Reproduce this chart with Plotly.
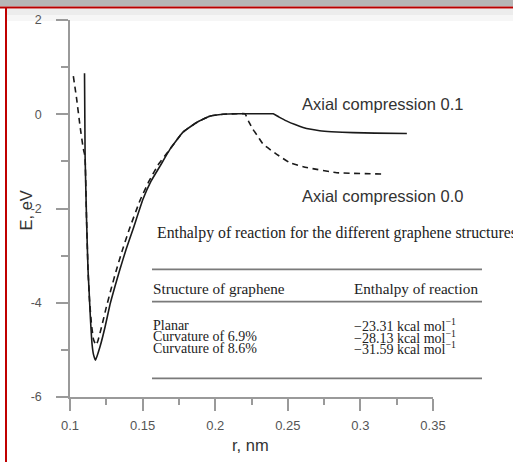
import plotly.graph_objects as go

# ---------------- data ----------------
r_comp01 = [0.1100, 0.1104, 0.1114, 0.1124, 0.1131, 0.1141, 0.1152, 0.1162, 0.1176,
            0.1207, 0.1241, 0.1276, 0.1310, 0.1344, 0.1386, 0.1434,
            0.1503, 0.1558, 0.1620, 0.1689, 0.1778, 0.1875, 0.1964, 0.2054,
            0.2150, 0.2250, 0.2350, 0.2400,
            0.2440, 0.2490, 0.2550, 0.2605, 0.2660, 0.2720, 0.2800, 0.2950, 0.3100, 0.3320]
e_comp01 = [0.87, -0.89, -2.23, -3.29, -3.72, -4.35, -4.88, -5.10, -5.22,
            -4.93, -4.52, -4.03, -3.65, -3.29, -2.87, -2.44,
            -1.80, -1.42, -1.10, -0.74, -0.38, -0.17, -0.04, 0.0,
            0.01, 0.01, 0.01, 0.01,
            -0.06, -0.14, -0.22, -0.28, -0.32, -0.35, -0.37, -0.39, -0.40, -0.41]

r_comp00 = [0.1023, 0.1046, 0.1069, 0.1092, 0.1103, 0.1114, 0.1124, 0.1134, 0.1148, 0.1162,
            0.1179, 0.1193, 0.1220, 0.1248, 0.1282, 0.1317, 0.1358, 0.1406, 0.1482, 0.1544,
            0.1606, 0.1689, 0.1778, 0.1875, 0.1964, 0.2054, 0.2150, 0.2205, 0.2230, 0.2260,
            0.2300, 0.2331, 0.2424, 0.2515, 0.2630, 0.2837, 0.3158]
e_comp00 = [0.81, 0.32, -0.25, -0.74, -0.89, -2.23, -3.29, -3.93, -4.46, -4.78,
            -4.90, -4.80, -4.48, -4.12, -3.72, -3.33, -2.91, -2.46, -1.83, -1.42,
            -1.08, -0.74, -0.38, -0.17, -0.04, 0.0, 0.01, 0.01, -0.15, -0.32,
            -0.50, -0.64, -0.85, -1.03, -1.13, -1.24, -1.27]

x_tick_vals = [0.1, 0.15, 0.2, 0.25, 0.3, 0.35]
x_tick_text = ["0.1", "0.15", "0.2", "0.25", "0.3", "0.35"]
x_minor_vals = [0.125, 0.175, 0.225, 0.275, 0.325]
y_tick_vals = [-6, -4, -2, 0, 2]
y_tick_text = ["-6", "-4", "-2", "0", "2"]
y_minor_vals = [-5, -3, -1, 1]

series_labels = ["Axial compression 0.1", "Axial compression 0.0"]
table_title = "Enthalpy of reaction for the different graphene structures"
table_header = ["Structure of graphene", "Enthalpy of reaction"]
table_structures = ["Planar", "Curvature of 6.9%", "Curvature of 8.6%"]
table_enthalpy = [-23.31, -28.13, -31.59]

# ---------------- layout helpers ----------------
W, H = 513, 462
L, R, T, B = 70, 433, 20, 397


def px(x):
    return (x - L) / (R - L)


def py(y):
    return (B - y) / (B - T)


AX = "#9a9a9a"
SANS = "Arial, Liberation Sans, sans-serif"
SERIF = "Times New Roman, Liberation Serif, serif"

fig = go.Figure()
fig.add_trace(go.Scatter(x=r_comp01, y=e_comp01, mode="lines",
                         line=dict(color="#1a1a1a", width=1.6, shape="spline", smoothing=0.35),
                         name=series_labels[0], showlegend=False, hoverinfo="skip"))
fig.add_trace(go.Scatter(x=r_comp00, y=e_comp00, mode="lines",
                         line=dict(color="#1a1a1a", width=1.6, dash="6px,4.5px",
                                   shape="spline", smoothing=0.35),
                         name=series_labels[1], showlegend=False, hoverinfo="skip"))

shapes = []
# screenshot frame
shapes.append(dict(type="rect", xref="paper", yref="paper", x0=px(0), x1=px(W),
                   y0=py(0), y1=py(6.5), fillcolor="#b6b6b6", line=dict(width=0), layer="above"))
shapes.append(dict(type="rect", xref="paper", yref="paper", x0=px(7), x1=px(W),
                   y0=py(9), y1=py(15), fillcolor="#ececec", line=dict(width=0), layer="below"))
shapes.append(dict(type="rect", xref="paper", yref="paper", x0=px(7), x1=px(W),
                   y0=py(15), y1=py(21), fillcolor="#f6f6f6", line=dict(width=0), layer="below"))
shapes.append(dict(type="line", xref="paper", yref="paper", x0=px(0), x1=px(W),
                   y0=py(7.5), y1=py(7.5), line=dict(color="#b80000", width=2.2), layer="above"))
shapes.append(dict(type="line", xref="paper", yref="paper", x0=px(6), x1=px(6),
                   y0=py(7), y1=py(H), line=dict(color="#c00000", width=2), layer="above"))
# table rules
for yy in [269.3, 301.7, 378.3]:
    shapes.append(dict(type="line", xref="paper", yref="paper", x0=px(152), x1=px(482),
                       y0=py(yy), y1=py(yy), line=dict(color="#7a7a7a", width=1.8), layer="above"))

ann = []


def text(x, y, s, font, size, color="#222", anchor="left", angle=0):
    ann.append(dict(xref="paper", yref="paper", x=px(x), y=py(y), text=s, showarrow=False,
                    xanchor=anchor, yanchor="middle", textangle=angle,
                    font=dict(family=font, size=size, color=color), borderpad=0))


text(301, 104, series_labels[0], SANS, 16.5, "#333")
text(301, 196, series_labels[1], SANS, 16.5, "#333")
text(25.5, 211, "E, eV", SANS, 16.5, "#333", anchor="center", angle=-90)
text(250, 445, "r, nm", SANS, 16.5, "#333", anchor="center")

text(156, 233, table_title, SERIF, 15.8)
text(152, 288, table_header[0], SERIF, 15.2)
text(353, 288, table_header[1], SERIF, 15.2)
row_y = [325, 336.5, 348]
for s, v, yy in zip(table_structures, table_enthalpy, row_y):
    text(152, yy, s, SERIF, 14)
    text(353, yy, "\u2212%.2f kcal mol<sup>\u22121</sup>" % abs(v), SERIF, 14)

fig.update_layout(
    width=W, height=H,
    margin=dict(l=L, r=W - R, t=T, b=H - B, pad=0),
    paper_bgcolor="white", plot_bgcolor="white",
    shapes=shapes, annotations=ann,
    xaxis=dict(range=[0.1, 0.35], tickmode="array", tickvals=x_tick_vals, ticktext=x_tick_text,
               showline=True, linecolor=AX, linewidth=1.5, ticks="outside", ticklen=12,
               tickwidth=1.5, tickcolor=AX, showgrid=False, zeroline=False,
               tickfont=dict(family=SANS, size=13, color="#555"), ticklabelstandoff=4,
               minor=dict(tickmode="array", tickvals=x_minor_vals, ticks="outside", ticklen=6,
                          tickwidth=1.5, tickcolor=AX, showgrid=False)),
    yaxis=dict(range=[-6, 2], tickmode="array", tickvals=y_tick_vals, ticktext=y_tick_text,
               showline=True, linecolor=AX, linewidth=1.5, ticks="outside", ticklen=12,
               tickwidth=1.5, tickcolor=AX, showgrid=False, zeroline=False,
               tickfont=dict(family=SANS, size=12.5, color="#555"), ticklabelstandoff=12,
               minor=dict(tickmode="array", tickvals=y_minor_vals, ticks="outside", ticklen=7,
                          tickwidth=1.5, tickcolor=AX, showgrid=False)),
)

fig.write_html("out.html", config={"displayModeBar": False},
               post_script="document.body.style.margin='0px';document.body.style.overflow='hidden';")
